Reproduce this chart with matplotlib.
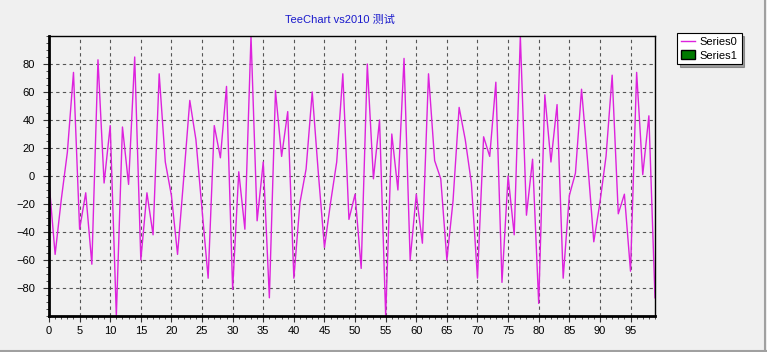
import matplotlib.pyplot as plt
from matplotlib.patches import Patch
from matplotlib.lines import Line2D
import numpy as np

plt.rcParams['font.family'] = ['Liberation Sans', 'Noto Sans CJK SC']

# Series0 values
series0 = [-4, -56, -17, 17, 74, -38, -12, -63, 83, -5,
           36, -100, 35, -6, 85, -60, -12, -42, 73, 10,
           -14, -56, -2, 54, 26, -24, -73, 36, 13, 64,
           -81, 3, -38, 100, -32, 10, -87, 61, 14, 46,
           -73, -19, 5, 60, 2, -51, -19, 10, 73, -31,
           -13, -66, 80, -2, 40, -100, 30, -10, 84, -60,
           -13, -48, 73, 11, -2, -60, -18, 49, 26, -5,
           -73, 28, 14, 67, -76, 0, -42, 100, -28, 12,
           -91, 58, 10, 51, -73, -14, 2, 62, 10, -47,
           -19, 14, 72, -27, -13, -68, 74, 1, 43, -87]
x = np.arange(len(series0))

x_ticks = list(range(0, 100, 5))
y_ticks = list(range(-80, 81, 20))

bg = '#f0f0f0'
fig = plt.figure(figsize=(7.67, 3.52), dpi=100, facecolor=bg)
ax = fig.add_axes([49 / 767, 36 / 352, 606 / 767, 280 / 352])
ax.set_facecolor(bg)

line, = ax.plot(x, series0, color='#dd22dd', lw=1.0, label='Series0')

ax.set_xlim(0, 99)
ax.set_ylim(-100, 100)
ax.set_xticks(x_ticks)
ax.set_yticks(y_ticks)
ax.set_xticks(np.arange(0, 100, 1), minor=True)
ax.set_yticks(np.arange(-100, 101, 5), minor=True)
ax.grid(True, which='major', color='#555555', ls=(0, (3, 3)), lw=0.8)
ax.tick_params(axis='both', which='major', labelsize=8, length=4, color='#333333')
ax.tick_params(axis='both', which='minor', length=2, color='#333333')
ax.tick_params(axis='y', which='major', pad=6)
for side in ['left', 'bottom']:
    ax.spines[side].set_linewidth(2)
for side in ['top', 'right']:
    ax.spines[side].set_linewidth(1)

fig.text(340 / 767, 1 - 20 / 352, 'TeeChart vs2010 测试', color='#1a1acc',
         fontsize=8, ha='center', va='center')

handles = [line, Patch(facecolor='#007a00', edgecolor='black', label='Series1')]
leg = fig.legend(handles=handles, loc='upper left', bbox_to_anchor=(677 / 767, 1 - 33 / 352),
                 borderaxespad=0, fontsize=8, frameon=True, fancybox=False, shadow=True,
                 edgecolor='black', framealpha=1, handlelength=1.3, handleheight=0.9,
                 handletextpad=0.4, borderpad=0.35, labelspacing=0.25)
leg.get_frame().set_linewidth(0.8)

# window bevel on bottom and right edges
fig.add_artist(Line2D([0, 1], [1 / 352, 1 / 352], color='#a0a0a0', lw=1.5, transform=fig.transFigure))
fig.add_artist(Line2D([1 - 2 / 767, 1 - 2 / 767], [0, 1], color='#a0a0a0', lw=1.5, transform=fig.transFigure))

fig.savefig('out.png', dpi=100, facecolor=bg)
